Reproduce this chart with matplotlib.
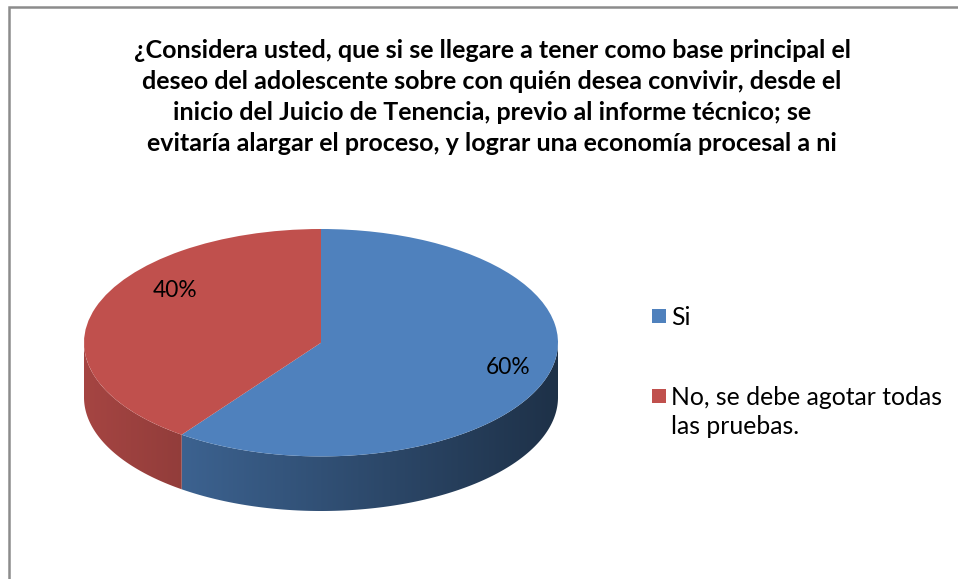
import matplotlib.pyplot as plt
import matplotlib.colors as mcolors
from matplotlib.patches import Rectangle, Polygon
import numpy as np

title = ('¿Considera usted, que si se llegare a tener como base principal el\n'
         'deseo del adolescente sobre con quién desea convivir, desde el\n'
         'inicio del Juicio de Tenencia, previo al informe técnico; se\n'
         'evitaría alargar el proceso, y lograr una economía procesal a ni')
labels = ['Si', 'No, se debe agotar todas\nlas pruebas.']
values = [60, 40]
colors = ['#4f81bd', '#c0504d']

plt.rcParams['font.family'] = ['Lato', 'DejaVu Sans']

W, H = 958, 579
fig = plt.figure(figsize=(W / 100, H / 100), dpi=100)

# grey frame on the top and left, as in the pasted chart
fig.add_artist(Rectangle((9 / W, -0.1), 1.2, (H - 7) / H + 0.1, transform=fig.transFigure,
                         fill=False, edgecolor='#8c8c8c', linewidth=1.8))

fig.text(492 / W, 1 - 97 / H, title, ha='center', va='center', fontsize=18,
         fontweight='bold', linespacing=1.42)

# pie axes: top ellipse plus the visible side wall
depth = 0.48
x0, x1 = 84, 558
ytop, ybot = 229, 511
ax = fig.add_axes([x0 / W, 1 - ybot / H, (x1 - x0) / W, (ybot - ytop) / H])

start = 90
total = sum(values)
angles = []
a = start
for v in values:
    angles.append((a - v / total * 360, a))
    a -= v / total * 360

# side walls with a horizontal gradient, darker towards the right
gx = np.linspace(-1, 1, 400)
shade = 0.62 - 0.24 * gx
for (a0, a1), c in zip(angles, colors):
    rgb = np.array(mcolors.to_rgb(c))
    img = np.clip(shade[None, :, None] * rgb[None, None, :], 0, 1)
    for k in (-360, 0, 360):
        s, e = max(a0 + k, 180), min(a1 + k, 360)
        if e <= s:
            continue
        tt = np.radians(np.linspace(s, e, 200))
        xs = np.concatenate([np.cos(tt), np.cos(tt[::-1])])
        ys = np.concatenate([np.sin(tt), np.sin(tt[::-1]) - depth])
        side = Polygon(np.column_stack([xs, ys]), closed=True, fill=False, lw=0)
        ax.add_patch(side)
        im = ax.imshow(img, extent=(-1, 1, -1 - depth, 1), aspect='auto',
                       interpolation='bilinear', zorder=0)
        im.set_clip_path(side)

wedges, texts, autotexts = ax.pie(values, colors=colors, startangle=start, counterclock=False,
                                  radius=1, center=(0, 0), frame=True, autopct='%1.0f%%',
                                  pctdistance=0.8, textprops={'fontsize': 16.4},
                                  wedgeprops={'zorder': 2})
ax.set_xlim(-1, 1)
ax.set_ylim(-1 - depth, 1)
ax.set_aspect('auto')
ax.axis('off')
autotexts[0].set_position((0.79, -0.22))
autotexts[1].set_position((-0.616, 0.46))
for t in autotexts:
    t.set_zorder(3)

# legend, handle aligned with the first line of each label
leg_y = [316, 396]
for lab, c, y in zip(labels, colors, leg_y):
    fig.add_artist(Rectangle((652 / W, 1 - (y + 6.5) / H), 14 / W, 13.5 / H,
                             transform=fig.transFigure, facecolor=c, edgecolor='none'))
    fig.text(671 / W, 1 - (y - 10) / H, lab, ha='left', va='top', fontsize=17.8,
             linespacing=1.3)

plt.savefig('out.png', dpi=100)
